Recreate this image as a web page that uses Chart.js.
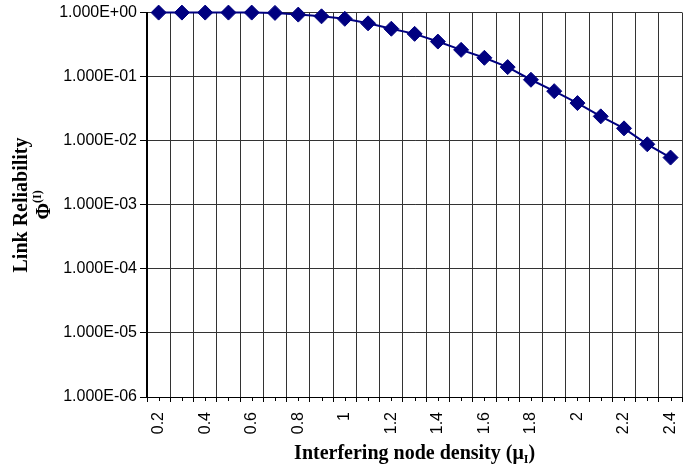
<!DOCTYPE html>
<html><head><meta charset="utf-8">
<script src="https://cdn.jsdelivr.net/npm/chart.js@4"></script>
<style>html,body{margin:0;padding:0;overflow:hidden;background:#fff}#wrap{position:relative;width:700px;height:468px}</style>
</head><body><div id="wrap"><canvas id="c"></canvas></div>
<script>
const densities = [0.2,0.3,0.4,0.5,0.6,0.7,0.8,0.9,1.0,1.1,1.2,1.3,1.4,1.5,1.6,1.7,1.8,1.9,2.0,2.1,2.2,2.3,2.4];
const reliability = [1.0,1.0,1.0,1.0,1.0,0.99,0.93,0.875,0.80,0.68,0.56,0.466,0.353,0.262,0.197,0.141,0.0895,0.0594,0.0387,0.024,0.0156,0.0088,0.00546];
const yTicks = [1e-6,1e-5,1e-4,1e-3,1e-2,1e-1,1];
const xTitle = ['Interfering node density (\u03bc', 'I', ')'];
const yTitle1 = 'Link Reliability';
const yTitle2 = ['\u03a6', '(I)'];

function sci(v){
  const e = Math.round(Math.log10(v));
  const m = v/Math.pow(10,e);
  return m.toFixed(3)+'E'+(e<0?'-':'+')+String(Math.abs(e)).padStart(2,'0');
}

const titles = {
  id:'titles',
  afterDraw(chart){
    const ctx = chart.ctx, xs = chart.scales.x;
    ctx.save();
    ctx.fillStyle = '#000';
    ctx.strokeStyle = '#000'; ctx.lineWidth = 1;
    const b = chart.chartArea.bottom;
    densities.forEach((d,i)=>{
      const x = Math.round(xs.getPixelForTick(i))+0.5;
      ctx.beginPath(); ctx.moveTo(x,b); ctx.lineTo(x,b+4); ctx.stroke();
    });
    const big = 'bold 20px "Liberation Serif", "Times New Roman", serif';
    const small = 'bold 12px "Liberation Serif", "Times New Roman", serif';
    ctx.font = big; const w1 = ctx.measureText(xTitle[0]).width, w3 = ctx.measureText(xTitle[2]).width;
    ctx.font = small; const w2 = ctx.measureText(xTitle[1]).width;
    const cx = (chart.chartArea.left + chart.chartArea.right)/2;
    let x0 = cx - (w1+w2+w3)/2, by = 459;
    ctx.textBaseline = 'alphabetic'; ctx.textAlign = 'left';
    ctx.font = big; ctx.fillText(xTitle[0], x0, by);
    ctx.font = small; ctx.fillText(xTitle[1], x0+w1, by+4);
    ctx.font = big; ctx.fillText(xTitle[2], x0+w1+w2, by);
    ctx.save();
    ctx.translate(0, 205);
    ctx.rotate(-Math.PI/2);
    ctx.font = big; ctx.textAlign = 'center';
    ctx.fillText(yTitle1, 0, 27);
    ctx.textAlign = 'left';
    const p1 = ctx.measureText(yTitle2[0]).width;
    ctx.font = small; const p2 = ctx.measureText(yTitle2[1]).width;
    const s0 = -(p1+p2)/2;
    ctx.font = big; ctx.fillText(yTitle2[0], s0, 50);
    ctx.font = small; ctx.fillText(yTitle2[1], s0+p1, 41);
    ctx.restore();
    ctx.restore();
  }
};

new Chart(document.getElementById('c'), {
  type:'line',
  data:{
    labels: densities.map(String),
    datasets:[{
      data: reliability,
      borderColor:'#000080', backgroundColor:'#000080', borderWidth:2,
      pointStyle:'rectRot', pointRadius:7.5, pointBorderWidth:1,
      pointBackgroundColor:'#000080', pointBorderColor:'#000080',
      tension:0, clip:false
    }]
  },
  options:{
    responsive:true, maintainAspectRatio:false, animation:false,
    layout:{padding:{top:12, right:11, left:0, bottom:0}},
    plugins:{legend:{display:false}, tooltip:{enabled:false}},
    scales:{
      x:{
        type:'category', offset:true,
        grid:{offset:true, color:'#333', lineWidth:1, tickLength:5, tickColor:'#000'},
        border:{color:'#000', width:1},
        ticks:{autoSkip:false, maxRotation:90, minRotation:90, padding:10, color:'#000',
          font:{family:'"Liberation Sans", Arial, sans-serif', size:16},
          callback:(v,i)=> i%2===0 ? String(densities[i]) : ''},
        afterFit:s=>{s.height=71;}
      },
      y:{
        type:'logarithmic', min:1e-6, max:1,
        grid:{color:'#333', lineWidth:1, tickLength:7, tickColor:'#000'},
        border:{color:'#000', width:2},
        ticks:{padding:3, color:'#000', font:{family:'"Liberation Sans", Arial, sans-serif', size:16},
          callback:v=>sci(v)},
        afterBuildTicks:s=>{s.ticks = yTicks.map(v=>({value:v}));},
        afterFit:s=>{s.width=147;}
      }
    }
  },
  plugins:[titles]
});
</script>
</body></html>
